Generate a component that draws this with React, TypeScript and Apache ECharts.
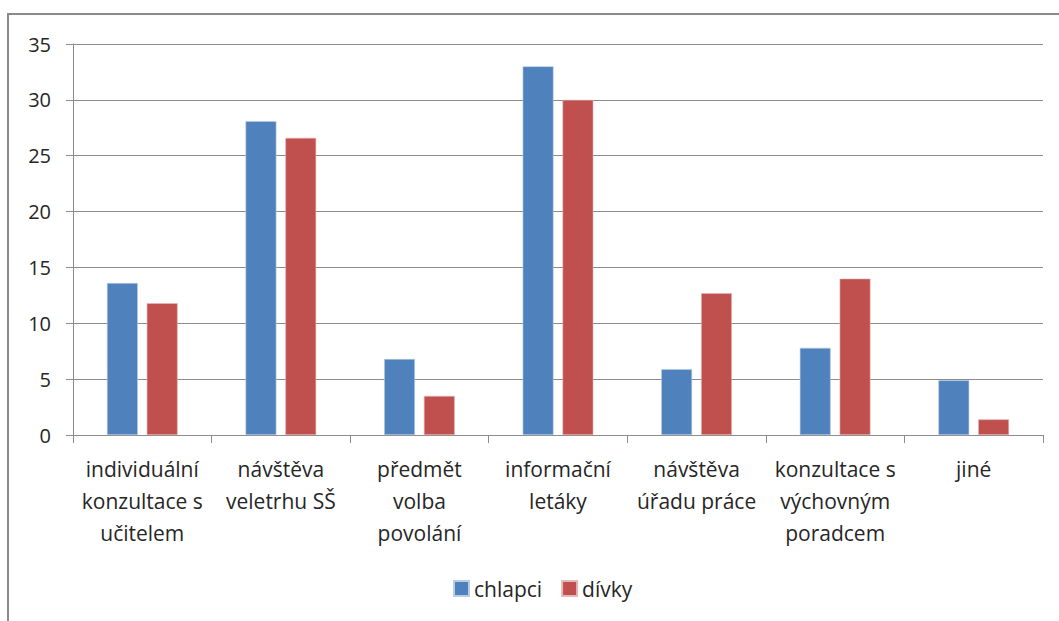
import React, { useEffect, useRef } from "react";
import * as echarts from "echarts";

const categories = [
  "individuální\nkonzultace s\nučitelem",
  "návštěva\nveletrhu SŠ",
  "předmět\nvolba\npovolání",
  "informační\nletáky",
  "návštěva\núřadu práce",
  "konzultace s\nvýchovným\nporadcem",
  "jiné",
];
const seriesNames = ["chlapci", "dívky"];
const chlapci = [13.6, 28.1, 6.8, 33.0, 5.9, 7.8, 4.9];
const divky = [11.8, 26.6, 3.5, 30.0, 12.7, 14.0, 1.4];
const yMin = 0;
const yMax = 35;
const yInterval = 5;

const FONT = "'Open Sans', Lato, sans-serif";
const TEXT = "#262626";
const GRID = "#8c8c8c";

export default function App() {
  const ref = useRef<HTMLDivElement>(null);
  useEffect(() => {
    if (!ref.current) return;
    const chart = echarts.init(ref.current, undefined, { renderer: "svg" });
    chart.setOption({
      animation: false,
      backgroundColor: "#ffffff",
      textStyle: { fontFamily: FONT },
      graphic: [
        {
          type: "rect",
          shape: { x: 8, y: 14, width: 1200, height: 800 },
          style: { fill: "none", stroke: "#8a8a8a", lineWidth: 2 },
          silent: true,
        },
      ],
      grid: { left: 73, right: 16, top: 44, bottom: 186, containLabel: false },
      legend: {
        left: 448,
        top: 573,
        itemWidth: 15,
        itemHeight: 15,
        itemGap: 19,
        icon: "rect",
        textStyle: { fontFamily: FONT, fontSize: 21, lineHeight: 20, color: TEXT },
        data: seriesNames,
      },
      xAxis: {
        type: "category",
        data: categories,
        axisLine: { show: true, lineStyle: { color: GRID, width: 1 } },
        axisTick: { show: true, alignWithLabel: false, length: 8, lineStyle: { color: GRID } },
        axisLabel: {
          interval: 0,
          margin: 18,
          fontFamily: FONT,
          fontSize: 21,
          lineHeight: 32,
          color: TEXT,
          align: "center",
        },
        splitLine: { show: false },
      },
      yAxis: {
        type: "value",
        min: yMin,
        max: yMax,
        interval: yInterval,
        axisLine: { show: true, lineStyle: { color: GRID, width: 1 } },
        axisTick: { show: true, length: 7, lineStyle: { color: GRID } },
        axisLabel: { margin: 22, fontFamily: FONT, fontSize: 20, color: TEXT },
        splitLine: { show: true, lineStyle: { color: GRID, width: 1 } },
      },
      series: [
        {
          name: seriesNames[0],
          type: "bar",
          data: chlapci,
          barGap: "29%",
          barCategoryGap: "49%",
          itemStyle: { color: "#4f81bd", borderColor: "#b9cde5", borderWidth: 0.6 },
        },
        {
          name: seriesNames[1],
          type: "bar",
          data: divky,
          barGap: "29%",
          barCategoryGap: "49%",
          itemStyle: { color: "#c0504d", borderColor: "#e6b9b8", borderWidth: 0.6 },
        },
      ],
    });
    return () => chart.dispose();
  }, []);
  return (
    <div
      ref={ref}
      style={{ position: "absolute", left: 0, top: 0, width: 1059, height: 621 }}
    />
  );
}
